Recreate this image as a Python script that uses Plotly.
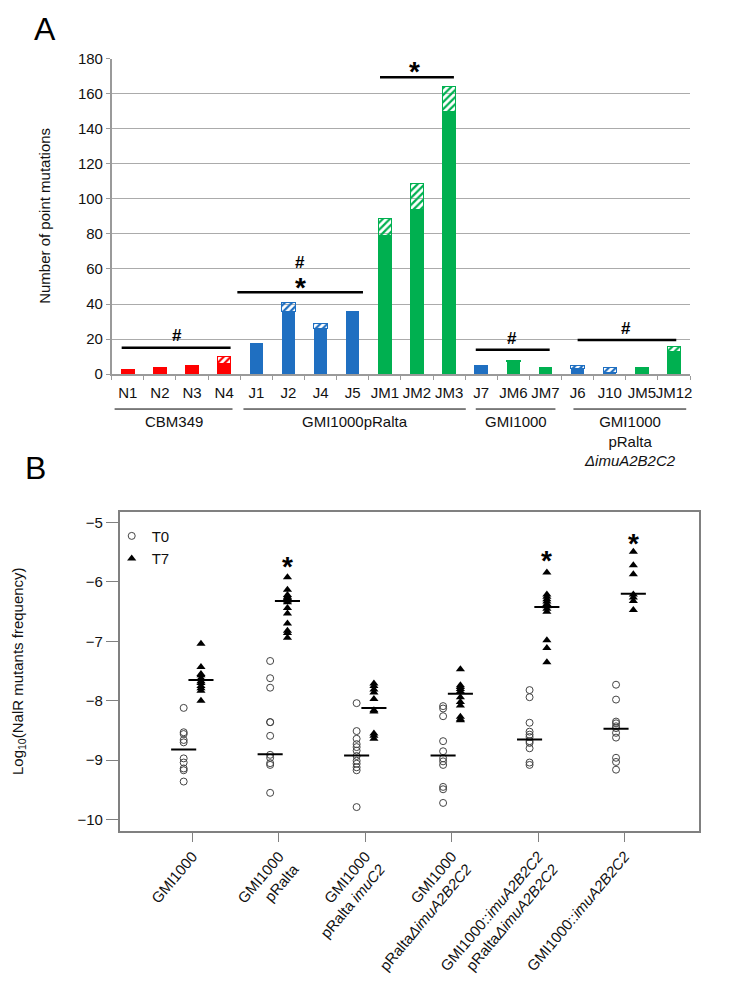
import plotly.graph_objects as go

# page body has an 8px default margin; figure is sized so the page is exactly 729x995
PAGE_W, PAGE_H, BODY = 729, 995, 8
W, H = PAGE_W - 2 * BODY, PAGE_H - 2 * BODY
FONT = "Liberation Sans, Arial, sans-serif"
RED, BLUE, GREEN = "#FF0000", "#1F6FC1", "#00B050"

# ---------------- Panel A data ----------------
strains = ["N1", "N2", "N3", "N4", "J1", "J2", "J4", "J5", "JM1", "JM2", "JM3",
           "J7", "JM6", "JM7", "J6", "J10", "JM5", "JM12"]
solid = [3, 4, 5, 6, 18, 36, 26, 36, 79, 94, 150, 5, 7, 4, 3, 1, 4, 13]
hatched = [None, None, None, 4, None, 5, 3, None, 10, 15, 14, None, 1, None, 2, 3, None, 3]
bar_colors = [RED] * 4 + [BLUE] * 4 + [GREEN] * 3 + [BLUE] + [GREEN] * 2 + [BLUE] * 2 + [GREEN] * 2
group_names = ["CBM349", "GMI1000pRalta", "GMI1000",
               "GMI1000<br>pRalta<br><i>\u0394imuA2B2C2</i>"]
group_spans = [(-0.41, 3.26), (3.6, 10.52), (10.83, 13.31), (13.87, 17.38)]
# significance bars: (x0, x1, y)
sig_bars = [(-0.19, 3.2, 15), (3.41, 7.32, 46.7), (7.85, 10.15, 169.4),
            (10.83, 13.13, 13.9), (14.0, 17.07, 19.4)]
# significance symbols: (x, y, symbol)
sig_marks = [(1.52, 22.8, "#"), (5.37, 64.4, "#"), (5.37, 53.3, "*"),
             (8.93, 176.7, "*"), (11.95, 21.1, "#"), (15.5, 26.7, "#")]

# ---------------- Panel B data ----------------
b_labels = ["GMI1000", "GMI1000<br>pRalta", "GMI1000<br>pRalta <i>imuC2</i>",
            "GMI1000<br>pRalta<i>\u0394imuA2B2C2</i>",
            "GMI1000::<i>imuA2B2C2</i><br>pRalta<i>\u0394imuA2B2C2</i>",
            "GMI1000::<i>imuA2B2C2</i>"]
t0_vals = [
    [-8.12, -8.53, -8.56, -8.66, -8.70, -8.97, -9.04, -9.14, -9.17, -9.36],
    [-7.33, -7.62, -7.78, -8.36, -8.36, -8.59, -8.91, -8.96, -9.05, -9.08, -9.55],
    [-8.04, -8.51, -8.64, -8.73, -8.78, -8.84, -8.93, -9.01, -9.06, -9.12, -9.17, -9.79],
    [-8.09, -8.13, -8.26, -8.68, -8.85, -8.97, -9.02, -9.08, -9.45, -9.49, -9.72],
    [-7.82, -7.94, -8.37, -8.52, -8.57, -8.61, -8.68, -8.71, -8.80, -9.04, -9.08],
    [-7.73, -7.98, -8.35, -8.38, -8.43, -8.46, -8.54, -8.62, -8.96, -9.03, -9.16],
]
t7_vals = [
    [-7.04, -7.43, -7.55, -7.57, -7.62, -7.67, -7.70, -7.75, -7.79, -7.83, -8.00],
    [-5.92, -6.13, -6.22, -6.25, -6.27, -6.31, -6.34, -6.44, -6.53, -6.70, -6.82, -6.86, -6.94],
    [-7.71, -7.75, -7.81, -7.86, -7.97, -8.16, -8.18, -8.55, -8.59, -8.64],
    [-7.47, -7.74, -7.77, -7.80, -7.84, -7.94, -8.02, -8.08, -8.27, -8.31, -8.33],
    [-5.84, -6.21, -6.25, -6.29, -6.33, -6.37, -6.41, -6.45, -6.50, -6.98, -7.11, -7.35],
    [-5.49, -5.72, -5.87, -6.21, -6.26, -6.32, -6.47],
]
t0_median = [-8.82, -8.90, -8.92, -8.92, -8.65, -8.47]
t7_median = [-7.65, -6.32, -8.12, -7.88, -6.42, -6.20]
b_star_idx = [2, 5, 6]
b_star_y = [-5.62, -5.52, -5.23]

OFF = 0.1
HALF = 0.145


def px_x(p):
    return (p - BODY) / W


def px_y(p):
    return 1 - (p - BODY) / H


fig = go.Figure()

# Panel A bars
fig.add_trace(go.Bar(x=strains, y=solid, marker=dict(color=bar_colors, line=dict(width=0)),
                     width=0.42, xaxis="x", yaxis="y", showlegend=False))
fig.add_trace(go.Bar(x=strains, y=hatched, width=0.42, xaxis="x", yaxis="y", showlegend=False,
                     marker=dict(color=bar_colors, line=dict(color=bar_colors, width=1),
                                 pattern=dict(shape="/", fgcolor="white", bgcolor=bar_colors,
                                              fillmode="replace", size=5, solidity=0.45))))

# Panel B points
x0s, y0s, x7s, y7s = [], [], [], []
for i, (a, b) in enumerate(zip(t0_vals, t7_vals), start=1):
    x0s += [i - OFF] * len(a)
    y0s += a
    x7s += [i + OFF] * len(b)
    y7s += b
fig.add_trace(go.Scatter(x=x0s, y=y0s, mode="markers", name="T0", xaxis="x2", yaxis="y2",
                         marker=dict(symbol="circle-open", size=7, color="#444",
                                     line=dict(width=1))))
fig.add_trace(go.Scatter(x=x7s, y=y7s, mode="markers", name="T7", xaxis="x2", yaxis="y2",
                         marker=dict(symbol="triangle-up", size=8, color="black")))
mx, my = [], []
for i, (m0, m7) in enumerate(zip(t0_median, t7_median), start=1):
    mx += [i - OFF - HALF, i - OFF + HALF, None, i + OFF - HALF, i + OFF + HALF, None]
    my += [m0, m0, None, m7, m7, None]
fig.add_trace(go.Scatter(x=mx, y=my, mode="lines", xaxis="x2", yaxis="y2", showlegend=False,
                         line=dict(color="black", width=2)))

shapes, annos = [], []
# significance bars panel A
for x0, x1, y in sig_bars:
    shapes.append(dict(type="line", xref="x", yref="y", x0=x0, x1=x1, y0=y, y1=y,
                       line=dict(color="black", width=2.5)))
for x, y, s in sig_marks:
    if s == "*":
        annos.append(dict(xref="x", yref="y", x=x, y=y, text="<b>*</b>", showarrow=False,
                          xanchor="center", yanchor="middle", yshift=-7,
                          font=dict(size=28, color="black", family=FONT)))
    else:
        annos.append(dict(xref="x", yref="y", x=x, y=y, text="<b>#</b>", showarrow=False,
                          xanchor="center", yanchor="middle", yshift=-1,
                          font=dict(size=17, color="black", family=FONT)))
# groups below panel A
for (a, b), name in zip(group_spans, group_names):
    shapes.append(dict(type="line", xref="x", yref="paper", x0=a, x1=b,
                       y0=px_y(412), y1=px_y(412), line=dict(color="black", width=1)))
    annos.append(dict(xref="x", yref="paper", x=(a + b) / 2, y=px_y(414), text=name,
                      showarrow=False, xanchor="center", yanchor="top", align="center",
                      font=dict(size=15, color="#111", family=FONT)))
# asterisks panel B
for i, y in zip(b_star_idx, b_star_y):
    annos.append(dict(xref="x2", yref="y2", x=i + OFF, y=y, text="<b>*</b>", showarrow=False,
                      xanchor="center", yanchor="middle", yshift=-7,
                      font=dict(size=28, color="black", family=FONT)))
# axis titles and panel letters
annos += [
    dict(xref="paper", yref="paper", x=px_x(45), y=px_y(213), text="Number of point mutations",
         textangle=-90, showarrow=False, xanchor="center", yanchor="middle",
         font=dict(size=15, color="#111", family=FONT)),
    dict(xref="paper", yref="paper", x=px_x(18), y=px_y(682),
         text="Log<sub>10</sub>(NalR mutants frequency)",
         textangle=-90, showarrow=False, xanchor="center", yanchor="middle",
         font=dict(size=15, color="#111", family=FONT)),
    dict(xref="paper", yref="paper", x=px_x(45), y=px_y(20), text="A", showarrow=False,
         xanchor="center", yanchor="middle",
         font=dict(size=32, color="black", family=FONT)),
    dict(xref="paper", yref="paper", x=px_x(36), y=px_y(473), text="B", showarrow=False,
         xanchor="center", yanchor="middle",
         font=dict(size=32, color="black", family=FONT)),
]

fig.update_layout(
    width=W, height=H, margin=dict(l=0, r=0, t=0, b=0),
    paper_bgcolor="white", plot_bgcolor="white",
    barmode="stack", bargap=0.5,
    font=dict(family=FONT, size=15, color="#111"),
    shapes=shapes, annotations=annos,
    legend=dict(x=px_x(112), y=px_y(526), xanchor="left", yanchor="top",
                bgcolor="rgba(0,0,0,0)", font=dict(size=15), tracegroupgap=0,
                traceorder="normal"),
    xaxis=dict(domain=[px_x(112), px_x(692)], anchor="y", type="category",
               categoryorder="array", categoryarray=strains, range=[-0.5, 17.5],
               tickson="boundaries", ticks="outside", ticklen=4, tickcolor="#9a9a9a",
               tickangle=0, ticklabelstandoff=4,
               showline=True, linecolor="#9a9a9a", linewidth=1.5, showgrid=False,
               tickfont=dict(size=15), fixedrange=True),
    yaxis=dict(domain=[px_y(376), px_y(51)], anchor="x", range=[0, 180], dtick=20,
               showgrid=True, gridcolor="#ababab", gridwidth=1.2, zeroline=False,
               showline=True, linecolor="#9a9a9a", linewidth=1.5,
               ticks="outside", ticklen=4, tickcolor="#9a9a9a", tickfont=dict(size=15)),
    xaxis2=dict(domain=[px_x(120), px_x(701)], anchor="y2", range=[0.16, 6.86],
                tickvals=[1, 2, 3, 4, 5, 6], ticktext=b_labels, tickangle=-50,
                ticks="outside", ticklen=9, tickcolor="#808080",
                showline=True, mirror=True, linecolor="#808080", linewidth=1.5,
                showgrid=False, zeroline=False, tickfont=dict(size=15)),
    yaxis2=dict(domain=[px_y(847), px_y(518)], anchor="x2", range=[-10.195, -4.82],
                tickvals=[-5, -6, -7, -8, -9, -10], ticks="outside", ticklen=12,
                tickcolor="#808080", showline=True, mirror=True, linecolor="#808080",
                linewidth=1.5, showgrid=False, zeroline=False, tickfont=dict(size=15)),
)

fig.write_html("out.html")
